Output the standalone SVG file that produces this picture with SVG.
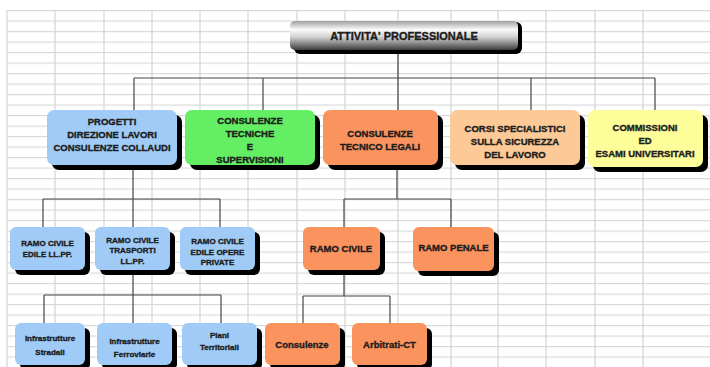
<svg xmlns="http://www.w3.org/2000/svg" width="710" height="367" viewBox="0 0 710 367">
  <defs>
    <pattern id="rows" x="0" y="10" width="710" height="10.5" patternUnits="userSpaceOnUse">
      <line x1="0" y1="0.5" x2="710" y2="0.5" stroke="#d9d9d9" stroke-width="1.2"/>
    </pattern>
    <linearGradient id="metal" x1="0" y1="0" x2="0" y2="1">
      <stop offset="0" stop-color="#a0a0a0"/>
      <stop offset="0.3" stop-color="#fbfbfb"/>
      <stop offset="0.55" stop-color="#d2d2d2"/>
      <stop offset="1" stop-color="#3c3c3c"/>
    </linearGradient>
  </defs>
  <style>
    .shadow { fill: #000000; }
    .blue { fill: #9fcbf6; }
    .green { fill: #63ee63; }
    .orange { fill: #fb935f; }
    .peach { fill: #fdc997; }
    .yellow { fill: #fdfd99; }
    .t { font-family: "Liberation Sans", Arial, sans-serif; font-weight: bold; fill: #1c1c1c; stroke: #1c1c1c; stroke-width: 0.35; text-anchor: middle; }
    .f11 { font-size: 11px; }
    .f95 { font-size: 9.5px; }
    .f8 { font-size: 8px; }
    .conn { stroke: #454545; stroke-width: 1.2; fill: none; }
  </style>

  <!-- background grid -->
  <g id="grid">
    <rect x="0" y="0" width="710" height="367" fill="#ffffff"/>
    <rect x="7" y="10" width="703" height="357" fill="url(#rows)"/>
    <path stroke="#d4d4d4" stroke-width="1.2" fill="none" d="M7 10V367 M55 10V367 M104 10V367 M152 10V367 M200 10V367 M248 10V367 M297 10V367 M345 10V367 M398 10V367 M451 10V367 M498 10V367 M546 10V367 M595 10V367 M643 10V367"/>
  </g>

  <!-- connectors -->
  <g id="connectors" class="conn">
    <path d="M398 52V78 M134 78H655 M134 78V110 M263 78V110 M398 78V110 M531 78V110 M655 78V110"/>
    <path d="M133 165V199 M43 199H220 M43 199V227 M133 199V227 M220 199V227"/>
    <path d="M397 165V199 M344 199H451 M344 199V227 M451 199V227"/>
    <path d="M133 270V295 M44 295H221 M44 295V323 M133 295V323 M221 295V323"/>
    <path d="M344 270V296 M303 296H390 M303 296V323 M390 296V323"/>
  </g>

  <!-- top node -->
  <g id="n-attivita">
    <rect class="shadow" x="294" y="22" width="228" height="32" rx="6"/>
    <rect x="290" y="21" width="228" height="29" rx="5" fill="url(#metal)"/>
    <text class="t f11" x="404" y="39.5">ATTIVITA' PROFESSIONALE</text>
  </g>

  <!-- level 1 -->
  <g id="n-progetti">
    <rect class="shadow" x="52" y="115" width="130" height="55" rx="7"/>
    <rect class="blue" x="47" y="110" width="130" height="55" rx="7"/>
    <text class="t f95" x="112" y="124.5">PROGETTI</text>
    <text class="t f95" x="112" y="137.5">DIREZIONE LAVORI</text>
    <text class="t f95" x="112" y="150.5">CONSULENZE COLLAUDI</text>
  </g>
  <g id="n-consulenze-tecniche">
    <rect class="shadow" x="190" y="115" width="130" height="55" rx="7"/>
    <rect class="green" x="185" y="110" width="130" height="55" rx="7"/>
    <text class="t f95" x="250" y="124">CONSULENZE</text>
    <text class="t f95" x="250" y="137">TECNICHE</text>
    <text class="t f95" x="250" y="150">E</text>
    <text class="t f95" x="250" y="163">SUPERVISIONI</text>
  </g>
  <g id="n-tecnico-legali">
    <rect class="shadow" x="328" y="115" width="115" height="55" rx="7"/>
    <rect class="orange" x="323" y="110" width="115" height="55" rx="7"/>
    <text class="t f95" x="380" y="136.5">CONSULENZE</text>
    <text class="t f95" x="380" y="150">TECNICO LEGALI</text>
  </g>
  <g id="n-corsi">
    <rect class="shadow" x="455" y="115" width="130" height="55" rx="7"/>
    <rect class="peach" x="450" y="110" width="130" height="55" rx="7"/>
    <text class="t f95" x="515" y="131.5">CORSI SPECIALISTICI</text>
    <text class="t f95" x="515" y="144.5">SULLA SICUREZZA</text>
    <text class="t f95" x="515" y="157.5">DEL LAVORO</text>
  </g>
  <g id="n-commissioni">
    <rect class="shadow" x="593" y="115" width="115" height="57" rx="7"/>
    <rect class="yellow" x="588" y="110" width="115" height="57" rx="7"/>
    <text class="t f95" x="645" y="130.5">COMMISSIONI</text>
    <text class="t f95" x="645" y="143.5">ED</text>
    <text class="t f95" x="645" y="156.5">ESAMI UNIVERSITARI</text>
  </g>

  <!-- level 2 -->
  <g id="n-edile-llpp">
    <rect class="shadow" x="15" y="232" width="75" height="43" rx="6"/>
    <rect class="blue" x="10" y="227" width="75" height="43" rx="6"/>
    <text class="t f8" x="47.5" y="246">RAMO CIVILE</text>
    <text class="t f8" x="47.5" y="256.5">EDILE LL.PP.</text>
  </g>
  <g id="n-trasporti">
    <rect class="shadow" x="100" y="232" width="75" height="43" rx="6"/>
    <rect class="blue" x="95" y="227" width="75" height="43" rx="6"/>
    <text class="t f8" x="132.5" y="242.5">RAMO CIVILE</text>
    <text class="t f8" x="132.5" y="253">TRASPORTI</text>
    <text class="t f8" x="132.5" y="263.5">LL.PP.</text>
  </g>
  <g id="n-opere-private">
    <rect class="shadow" x="185" y="232" width="75" height="43" rx="6"/>
    <rect class="blue" x="180" y="227" width="75" height="43" rx="6"/>
    <text class="t f8" x="217.5" y="244">RAMO CIVILE</text>
    <text class="t f8" x="217.5" y="254.5">EDILE OPERE</text>
    <text class="t f8" x="217.5" y="265">PRIVATE</text>
  </g>
  <g id="n-ramo-civile">
    <rect class="shadow" x="308" y="232" width="77" height="43" rx="6"/>
    <rect class="orange" x="303" y="227" width="77" height="43" rx="6"/>
    <text class="t f95" x="341" y="251.5">RAMO CIVILE</text>
  </g>
  <g id="n-ramo-penale">
    <rect class="shadow" x="418" y="232" width="81" height="44" rx="6"/>
    <rect class="orange" x="413" y="227" width="81" height="44" rx="6"/>
    <text class="t f95" x="453.5" y="250.5">RAMO PENALE</text>
  </g>

  <!-- level 3 -->
  <g id="n-stradali">
    <rect class="shadow" x="20" y="328" width="70" height="42" rx="6"/>
    <rect class="blue" x="15" y="323" width="70" height="42" rx="6"/>
    <text class="t f8" x="50" y="341">Infrastrutture</text>
    <text class="t f8" x="50" y="355">Stradali</text>
  </g>
  <g id="n-ferroviarie">
    <rect class="shadow" x="102" y="328" width="75" height="42" rx="6"/>
    <rect class="blue" x="97" y="323" width="75" height="42" rx="6"/>
    <text class="t f8" x="134.5" y="344">Infrastrutture</text>
    <text class="t f8" x="134.5" y="356.5">Ferroviarie</text>
  </g>
  <g id="n-piani">
    <rect class="shadow" x="187" y="328" width="75" height="42" rx="6"/>
    <rect class="blue" x="182" y="323" width="75" height="42" rx="6"/>
    <text class="t f8" x="219.5" y="338">Piani</text>
    <text class="t f8" x="219.5" y="350">Territoriali</text>
  </g>
  <g id="n-consulenze">
    <rect class="shadow" x="270" y="328" width="75" height="42" rx="6"/>
    <rect class="orange" x="265" y="323" width="75" height="42" rx="6"/>
    <text class="t f95" x="302" y="348">Consulenze</text>
  </g>
  <g id="n-arbitrati">
    <rect class="shadow" x="357" y="328" width="75" height="42" rx="6"/>
    <rect class="orange" x="352" y="323" width="75" height="42" rx="6"/>
    <text class="t f95" x="389.5" y="348">Arbitrati-CT</text>
  </g>
</svg>
